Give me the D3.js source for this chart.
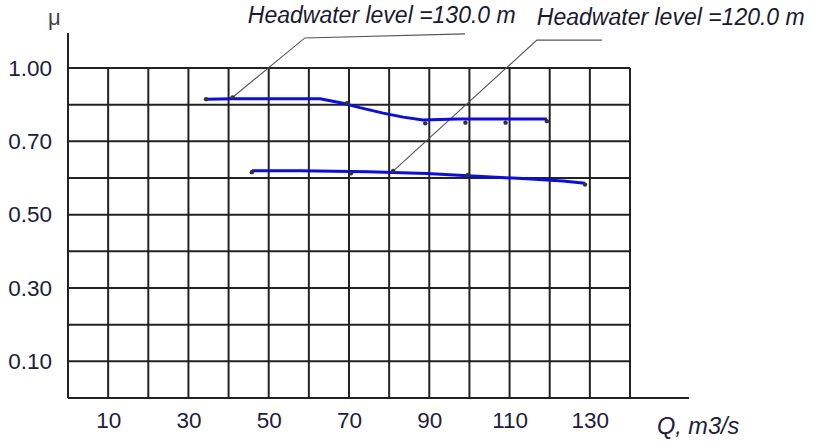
<!DOCTYPE html>
<html>
<head>
<meta charset="utf-8">
<script src="https://cdn.jsdelivr.net/npm/d3@7"></script>
<style>
  html, body { margin: 0; padding: 0; background: #fff; }
  svg { display: block; }
  text { font-family: "Liberation Sans", Arial, sans-serif; }
</style>
</head>
<body>
<svg id="chart" width="814" height="443"></svg>
<script>
// ---- data ----
const qTicks = [10, 30, 50, 70, 90, 110, 130];
const muTicks = [0.1, 0.3, 0.5, 0.7, 0.9];
const muTickLabels = ["0.10", "0.30", "0.50", "0.70", "1.00"];
const gridQ = [0, 10, 20, 30, 40, 50, 60, 70, 80, 90, 100, 110, 120, 130, 140];
const gridMu = [0, 0.1, 0.2, 0.3, 0.4, 0.5, 0.6, 0.7, 0.8, 0.9];

// Headwater level = 130.0 m
const s130Q  = [34.4, 41.0, 62.8, 68.5, 72.7, 78.5, 83.5, 88.4, 96.9, 108.0, 119.3];
const s130Mu = [0.815, 0.816, 0.816, 0.804, 0.792, 0.777, 0.766, 0.758, 0.761, 0.761, 0.761];
const m130Q  = [34.4, 41.0, 69.5, 89.0, 99.0, 109.0, 119.3];
const m130Mu = [0.815, 0.820, 0.804, 0.749, 0.751, 0.751, 0.755];

// Headwater level = 120.0 m
const s120Q  = [45.8, 57.8, 74.7, 89.4, 99.6, 114.3, 123.3, 128.8];
const s120Mu = [0.620, 0.620, 0.617, 0.612, 0.606, 0.598, 0.592, 0.586];
const m120Q  = [45.8, 70.5, 81.0, 99.6, 128.8];
const m120Mu = [0.616, 0.613, 0.619, 0.608, 0.582];

const labels = ["Headwater level =130.0 m", "Headwater level =120.0 m"];
// leader polylines in data units (Q, mu)
const leader130Q  = [41.1, 59.0, 98.9];
const leader130Mu = [0.821, 0.982, 0.993];
const leader120Q  = [81.0, 116.8, 133.0];
const leader120Mu = [0.619, 0.976, 0.976];

// ---- chart ----
const svg = d3.select("#chart");
const x = d3.scaleLinear().domain([0, 140]).range([68, 630]);
const y = d3.scaleLinear().domain([0, 0.9]).range([398, 68]);

const gridColor = "#222";
const gw = 2;
const g = svg.append("g");

// vertical grid lines
g.selectAll("line.vg").data(gridQ).enter().append("line")
  .attr("x1", d => x(d)).attr("x2", d => x(d))
  .attr("y1", y(0)).attr("y2", y(0.9))
  .attr("stroke", gridColor).attr("stroke-width", gw);
// horizontal grid lines
g.selectAll("line.hg").data(gridMu).enter().append("line")
  .attr("x1", x(0)).attr("x2", x(140))
  .attr("y1", d => y(d)).attr("y2", d => y(d))
  .attr("stroke", gridColor).attr("stroke-width", gw);
// extended axes
g.append("line").attr("x1", x(0)).attr("x2", x(0)).attr("y1", y(0)).attr("y2", y(0.9) - 35)
  .attr("stroke", gridColor).attr("stroke-width", gw);
g.append("line").attr("x1", x(0)).attr("x2", x(140) + 59).attr("y1", y(0)).attr("y2", y(0))
  .attr("stroke", gridColor).attr("stroke-width", gw);

// axes labels via d3 axes
const tickColor = "#20203a";
const xAxis = svg.append("g").attr("transform", `translate(0,${y(0)})`)
  .call(d3.axisBottom(x).tickValues(qTicks).tickSize(0).tickPadding(14).tickFormat(d => d));
xAxis.select(".domain").remove();
xAxis.selectAll("text").attr("font-size", 22.5).attr("fill", tickColor)
  .attr("font-family", "Liberation Sans, Arial, sans-serif");

const yAxis = svg.append("g").attr("transform", `translate(${x(0)},0)`)
  .call(d3.axisLeft(y).tickValues(muTicks).tickSize(0).tickPadding(16)
    .tickFormat((d, i) => muTickLabels[i]));
yAxis.select(".domain").remove();
yAxis.selectAll("text").attr("font-size", 22.5).attr("fill", tickColor)
  .attr("font-family", "Liberation Sans, Arial, sans-serif");

// axis titles
svg.append("text").attr("x", 48).attr("y", 25).attr("font-size", 22).attr("fill", "#444").text("μ");
svg.append("text").attr("x", 657).attr("y", 434).attr("font-size", 23.5).attr("font-style", "italic")
  .attr("fill", tickColor).text("Q, m3/s");

// leader lines
const lineGen = d3.line().x(d => x(d[0])).y(d => y(d[1]));
[[leader130Q, leader130Mu], [leader120Q, leader120Mu]].forEach(([qs, ms]) => {
  svg.append("path").datum(qs.map((q, i) => [q, ms[i]]))
    .attr("d", lineGen).attr("fill", "none").attr("stroke", "#555").attr("stroke-width", 1.1);
});

// series lines
[[s130Q, s130Mu], [s120Q, s120Mu]].forEach(([qs, ms]) => {
  svg.append("path").datum(qs.map((q, i) => [q, ms[i]]))
    .attr("d", lineGen).attr("fill", "none").attr("stroke", "#0a0af5").attr("stroke-width", 3);
});

// markers
[[m130Q, m130Mu], [m120Q, m120Mu]].forEach(([qs, ms]) => {
  svg.append("g").selectAll("circle").data(qs.map((q, i) => [q, ms[i]])).enter().append("circle")
    .attr("cx", d => x(d[0])).attr("cy", d => y(d[1])).attr("r", 2.2)
    .attr("fill", "#333");
});

// annotation labels
svg.append("text").attr("x", x(44.8)).attr("y", 23).attr("font-size", 23).attr("font-style", "italic")
  .attr("fill", "#1a1a2e").text(labels[0]);
svg.append("text").attr("x", x(116.8)).attr("y", 25).attr("font-size", 23).attr("font-style", "italic")
  .attr("fill", "#1a1a2e").text(labels[1]);
</script>
</body>
</html>
